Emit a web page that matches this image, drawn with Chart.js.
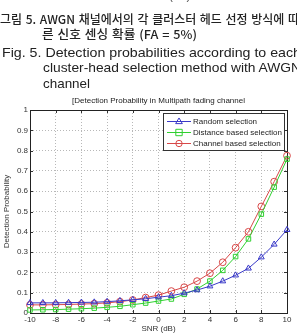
<!DOCTYPE html>
<html>
<head>
<meta charset="utf-8">
<script src="https://cdn.jsdelivr.net/npm/chart.js@4/dist/chart.umd.min.js"></script>
<style>
  html, body { margin:0; padding:0; background:#fff; width:297px; height:335px; overflow:hidden; }
  #wrap { position:relative; width:297px; height:335px; overflow:hidden; }
  canvas { position:absolute; left:0; top:0; }
  .cap { position:absolute; white-space:nowrap; color:#222; transform-origin:0 0; line-height:1; }
  .ko { font-family:"Noto Sans CJK KR", sans-serif; font-size:12px; font-weight:500; word-spacing:1px; }
  .en { font-family:"Liberation Sans", Arial, sans-serif; font-size:13px; }
</style>
</head>
<body>
<div id="wrap">
  <canvas id="c" width="297" height="335"></canvas>
  <div class="cap en" style="left:143px; top:-9px; font-size:11px; color:#444;">SNR (dB)</div>
  <div class="cap ko" data-w="299" style="left:0px; top:13px;">그림 5. AWGN 채널에서의 각 클러스터 헤드 선정 방식에 따</div>
  <div class="cap ko" data-w="155" style="left:42px; top:28px;">른 신호 센싱 확률 (FA = 5%)</div>
  <div class="cap en" data-w="299" style="left:2px; top:46px;">Fig. 5. Detection probabilities according to each</div>
  <div class="cap en" data-w="258" style="left:43px; top:61px;">cluster-head selection method with AWGN</div>
  <div class="cap en" data-w="47" style="left:43px; top:77px;">channel</div>
</div>
<script>
// ---- data ----
const snr = [-10,-9,-8,-7,-6,-5,-4,-3,-2,-1,0,1,2,3,4,5,6,7,8,9,10];
const randomSel   = [0.050,0.050,0.050,0.051,0.052,0.053,0.056,0.060,0.065,0.070,0.078,0.085,0.098,0.113,0.132,0.157,0.186,0.220,0.275,0.338,0.410];
const distanceSel = [0.015,0.016,0.017,0.019,0.021,0.024,0.028,0.033,0.041,0.049,0.059,0.069,0.092,0.118,0.157,0.210,0.278,0.365,0.487,0.620,0.758];
const channelSel  = [0.040,0.040,0.041,0.042,0.044,0.046,0.050,0.056,0.064,0.076,0.088,0.108,0.127,0.157,0.196,0.250,0.322,0.400,0.525,0.647,0.775];
const seriesNames = ["Random selection","Distance based selection","Channel based selection"];
const xTicks = [-10,-8,-6,-4,-2,0,2,4,6,8,10];
const yTicks = [0,0.1,0.2,0.3,0.4,0.5,0.6,0.7,0.8,0.9,1];
const yTickLabels = ["0","0.1","0.2","0.3","0.4","0.5","0.6","0.7","0.8","0.9","1"];
const chartTitle = "[Detection Probability in Multipath fading channel";
const xTitle = "SNR (dB)";
const yTitle = "Detection Probability";

// fit caption lines to widths
document.querySelectorAll('.cap[data-w]').forEach(el => {
  const w = el.getBoundingClientRect().width;
  const t = parseFloat(el.dataset.w);
  if (w > 0) el.style.transform = 'scaleX(' + (t / w) + ')';
});

const colors = ['#3a3ac8', '#30d030', '#d84848'];
const styles = ['triangle', 'rect', 'circle'];
const FONT = '"Liberation Sans", Arial, sans-serif';

function mk(i, data) {
  return {
    label: seriesNames[i],
    data: snr.map((x, k) => ({x: x, y: data[k]})),
    borderColor: colors[i],
    backgroundColor: 'rgba(0,0,0,0)',
    borderWidth: 1,
    pointStyle: styles[i],
    pointRadius: styles[i] === 'rect' ? 3.2 : 3.4,
    pointBorderWidth: 1,
    pointBorderColor: colors[i],
    pointBackgroundColor: 'rgba(0,0,0,0)',
    tension: 0,
    clip: false
  };
}

function drawMarker(ctx, style, x, y, r) {
  ctx.beginPath();
  if (style === 'circle') { ctx.arc(x, y, r, 0, Math.PI * 2); }
  else if (style === 'rect') { ctx.rect(x - r, y - r, 2 * r, 2 * r); }
  else {
    const s = r * 1.1;
    ctx.moveTo(x, y - s);
    ctx.lineTo(x + s * 0.95, y + s * 0.6);
    ctx.lineTo(x - s * 0.95, y + s * 0.6);
    ctx.closePath();
  }
  ctx.stroke();
}

const decor = {
  id: 'decor',
  beforeDatasetsDraw(chart) {
    const {ctx, chartArea: a, scales} = chart;
    ctx.save();
    ctx.strokeStyle = '#333'; ctx.lineWidth = 1;
    ctx.beginPath();
    xTicks.forEach(v => {
      const px = Math.round(scales.x.getPixelForValue(v)) + 0.5;
      ctx.moveTo(px, a.bottom); ctx.lineTo(px, a.bottom - 3);
      ctx.moveTo(px, a.top); ctx.lineTo(px, a.top + 3);
    });
    yTicks.forEach(v => {
      const py = Math.round(scales.y.getPixelForValue(v)) + 0.5;
      ctx.moveTo(a.left, py); ctx.lineTo(a.left + 3, py);
      ctx.moveTo(a.right, py); ctx.lineTo(a.right - 3, py);
    });
    ctx.stroke();
    ctx.strokeStyle = '#222';
    ctx.strokeRect(Math.round(a.left) + 0.5, Math.round(a.top) + 0.5, Math.round(a.right - a.left), Math.round(a.bottom - a.top));
    ctx.restore();
  },
  afterDraw(chart) {
    const {ctx, chartArea: a} = chart;
    ctx.save();
    ctx.fillStyle = '#222';
    ctx.font = '8px ' + FONT;
    ctx.textAlign = 'center'; ctx.textBaseline = 'middle';
    ctx.fillText(chartTitle, (a.left + a.right) / 2, a.top - 9);
    const lx = 163, ly = 113, lw = 121, lh = 37;
    ctx.fillStyle = '#fff';
    ctx.fillRect(lx, ly, lw, lh);
    ctx.strokeStyle = '#333'; ctx.lineWidth = 1;
    ctx.strokeRect(lx + 0.5, ly + 0.5, lw, lh);
    ctx.textAlign = 'left';
    ctx.font = '8px ' + FONT;
    chart.data.datasets.forEach((ds, i) => {
      const y = ly + 8 + i * 11 + 0.5;
      ctx.strokeStyle = ds.borderColor;
      ctx.beginPath(); ctx.moveTo(lx + 4, y); ctx.lineTo(lx + 28, y); ctx.stroke();
      drawMarker(ctx, ds.pointStyle, lx + 16, y, 3.2);
      ctx.fillStyle = '#222';
      ctx.fillText(ds.label, lx + 30, y + 0.5);
    });
    ctx.restore();
  }
};

new Chart(document.getElementById('c'), {
  type: 'line',
  data: { datasets: [mk(0, randomSel), mk(1, distanceSel), mk(2, channelSel)] },
  options: {
    responsive: false,
    animation: false,
    devicePixelRatio: 1,
    layout: { padding: { top: 110, right: 10, left: 0, bottom: 0 } },
    plugins: { legend: { display: false }, title: { display: false }, tooltip: { enabled: false } },
    scales: {
      x: {
        type: 'linear', min: -10, max: 10,
        afterBuildTicks: s => { s.ticks = xTicks.map(v => ({value: v})); },
        afterFit: s => { s.height = 22; },
        ticks: { font: { size: 8, family: FONT }, color: '#333', padding: 2, maxRotation: 0, autoSkip: false,
                 callback: v => String(v) },
        grid: { color: '#b8b8b8', lineWidth: 1, drawTicks: false },
        border: { display: false, dash: [1, 2] },
        title: { display: true, text: xTitle, font: { size: 8, family: FONT }, color: '#333', padding: { top: 0, bottom: 1 } }
      },
      y: {
        type: 'linear', min: 0, max: 1,
        afterBuildTicks: s => { s.ticks = yTicks.map(v => ({value: v})); },
        afterFit: s => { s.width = 30; },
        ticks: { font: { size: 8, family: FONT }, color: '#333', padding: 2, autoSkip: false,
                 callback: (v, i) => yTickLabels[i] },
        grid: { color: '#b8b8b8', lineWidth: 1, drawTicks: false },
        border: { display: false, dash: [1, 2] },
        title: { display: true, text: yTitle, font: { size: 8, family: FONT }, color: '#333', padding: { top: 2, bottom: 0 } }
      }
    }
  },
  plugins: [decor]
});
</script>
</body>
</html>
